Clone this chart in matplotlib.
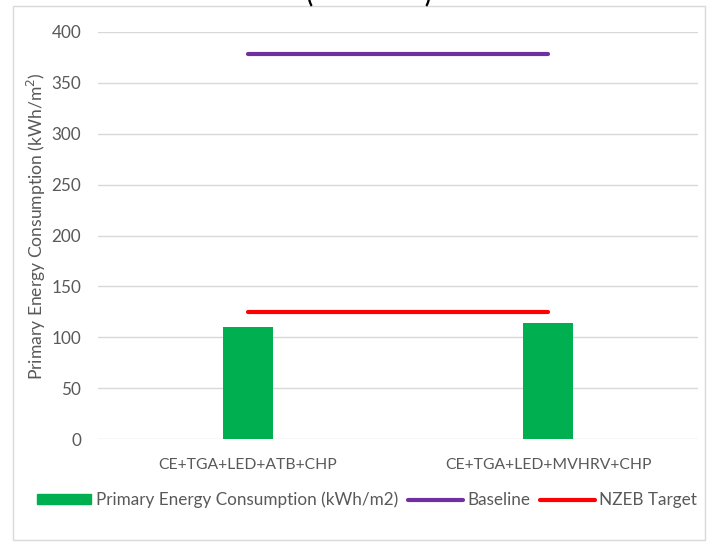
import matplotlib.pyplot as plt
import matplotlib.patches as mpatches
from matplotlib.lines import Line2D
import numpy as np

plt.rcParams['font.family'] = ['Lato', 'DejaVu Sans']

# data
scenarios = ['CE+TGA+LED+ATB+CHP', 'CE+TGA+LED+MVHRV+CHP']
primary_energy = [110, 114]
baseline = [378, 378]
nzeb_target = [125, 125]

gray_txt = '#595959'
grid_col = '#d9d9d9'

fig = plt.figure(figsize=(7.08, 5.51), dpi=100)
ax = fig.add_axes([98 / 708, 1 - 439 / 551, 600 / 708, 407 / 551])

x = np.arange(len(scenarios))
ax.bar(x, primary_energy, 0.167, color='#00b050', zorder=2)
ax.plot(x, baseline, color='#7030a0', lw=3, solid_capstyle='round', zorder=3)
ax.plot(x, nzeb_target, color='#ff0000', lw=3, solid_capstyle='round', zorder=3)

ax.set_xlim(-0.5, 1.5)
ax.set_ylim(0, 400)
ax.set_yticks(range(0, 401, 50))
ax.set_xticks(x)
ax.set_xticklabels(scenarios)
ax.tick_params(length=0, colors=gray_txt)
ax.tick_params(axis='y', labelsize=12.3, pad=12)
ax.tick_params(axis='x', labelsize=11.3, pad=14)
ax.grid(axis='y', color=grid_col, lw=1, zorder=0)
for s in ax.spines.values():
    s.set_visible(False)
ax.set_ylabel('Primary Energy Consumption (kWh/m$^2$)', color=gray_txt, fontsize=12.6)
ax.yaxis.set_label_coords((48 - 98) / 600, (439 - 226) / 407)

handles = [
    mpatches.Patch(color='#00b050', label='Primary Energy Consumption (kWh/m2)'),
    Line2D([], [], color='#7030a0', lw=3, solid_capstyle='round', label='Baseline'),
    Line2D([], [], color='#ff0000', lw=3, solid_capstyle='round', label='NZEB Target'),
]
leg = fig.legend(handles=handles, loc='center', bbox_to_anchor=(367 / 708, 1 - 500 / 551),
                 ncol=3, frameon=False, fontsize=12.3, handlelength=3.2, handleheight=0.5,
                 handletextpad=0.25, columnspacing=0.6)
for t in leg.get_texts():
    t.set_color(gray_txt)

# chart border
fig.add_artist(mpatches.Rectangle((13 / 708, 1 - 540 / 551), 692 / 708, 534 / 551,
                                  transform=fig.transFigure, fill=False,
                                  edgecolor=grid_col, lw=1))

# cropped title remnants
fig.text(309 / 708, 1 - 2 / 551, '(', fontsize=16, fontweight='bold', ha='center', va='baseline')
fig.text(427 / 708, 1 - 2 / 551, ')', fontsize=16, fontweight='bold', ha='center', va='baseline')

fig.savefig('out.png', dpi=100)
